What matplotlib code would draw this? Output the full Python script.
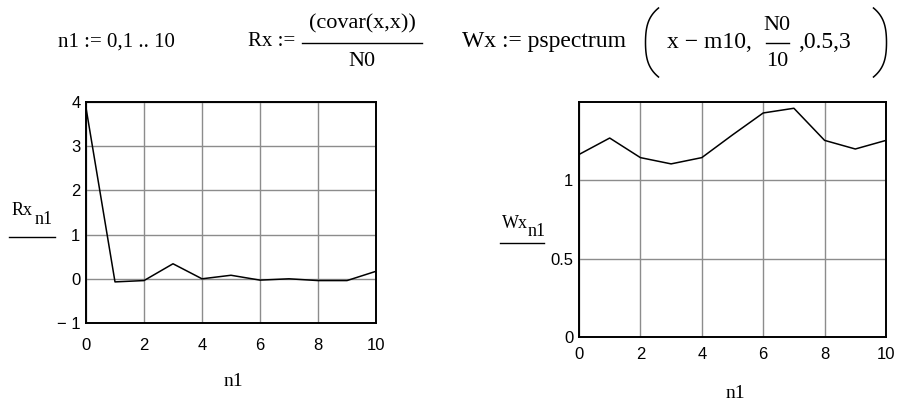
import matplotlib
matplotlib.use("Agg")
import numpy as np
import matplotlib.pyplot as plt
from matplotlib.lines import Line2D

n1 = list(range(11))
Rx = [3.87, -0.07, -0.04, 0.34, 0.0, 0.08, -0.03, 0.0, -0.04, -0.04, 0.17]
Wx = [1.165, 1.27, 1.145, 1.105, 1.145, 1.29, 1.43, 1.46, 1.255, 1.2, 1.255]

rx_yticks = [-1, 0, 1, 2, 3, 4]
rx_ylabels = ['\u2212 1', '0', '1', '2', '3', '4']
wx_yticks = [0, 0.5, 1]
wx_ylabels = ['0', '0.5', '1']
xticks = [0, 2, 4, 6, 8, 10]

W, H = 901, 403
SERIF = 'Liberation Serif'
SANS = 'Liberation Sans'

fig = plt.figure(figsize=(W / 100, H / 100), dpi=100)


def px(x, y):
    return x / W, 1 - y / H


def text(x, y, s, size=16, ha='left', va='center', family=SERIF):
    fig.text(*px(x, y), s, fontsize=size, ha=ha, va=va, family=family)


def line(xs, ys, lw=1.0):
    xs = np.asarray(xs, dtype=float) / W
    ys = 1 - np.asarray(ys, dtype=float) / H
    fig.add_artist(Line2D(xs, ys, color='black', lw=lw))


def hline(x0, x1, y, lw=1.0):
    line([x0, x1], [y, y], lw)


def paren(xc, y0, y1, bulge):
    # tall thin bracket, drawn as a curve in pixel space
    t = np.linspace(-1, 1, 40)
    ys = (y0 + y1) / 2 + t * (y1 - y0) / 2
    xs = xc + bulge * (t ** 4 * 0.6 + t ** 2 * 0.4 - 0.5)
    line(xs, ys, lw=1.1)


def setup(ax, yticks, ylabels, ylim, xpad):
    ax.set_xlim(0, 10)
    ax.set_ylim(*ylim)
    ax.set_xticks(xticks)
    ax.set_xticklabels([str(t) for t in xticks], family=SANS, fontsize=12)
    ax.set_yticks(yticks)
    ax.set_yticklabels(ylabels, family=SANS, fontsize=12)
    ax.tick_params(length=0)
    ax.tick_params(axis='x', pad=xpad)
    ax.tick_params(axis='y', pad=4)
    ax.grid(True, color='#8c8c8c', lw=1.0)
    ax.set_axisbelow(True)
    for sp in ax.spines.values():
        sp.set_linewidth(1.4)
        sp.set_color('black')


# left plot: Rx
ax1 = fig.add_axes([86 / W, 1 - 323 / H, 290 / W, 221 / H])
setup(ax1, rx_yticks, rx_ylabels, (-1, 4), 11)
ax1.plot(n1, Rx, color='black', lw=1.1)

# right plot: Wx
ax2 = fig.add_axes([579 / W, 1 - 337 / H, 307 / W, 235 / H])
setup(ax2, wx_yticks, wx_ylabels, (0, 1.5), 7)
ax2.plot(n1, Wx, color='black', lw=1.1)

# axis labels
text(233, 382, 'n1', size=14, ha='center')
text(735, 393, 'n1', size=14, ha='center')

text(12, 211, 'Rx', size=13)
text(35, 219, 'n1', size=13)
hline(9, 55, 237)

text(502, 224, 'Wx', size=13)
text(528, 232, 'n1', size=13)
hline(500, 544, 243)

# formulas at the top
text(58, 42, 'n1 := 0,1 .. 10', size=15)

text(248, 42, 'Rx :=', size=15)
text(362, 24, '(covar(x,x))', ha='center')
hline(302, 422, 43)
text(362, 62, 'N0', ha='center')

text(462, 42, 'Wx := pspectrum', size=17)
paren(652, 8, 77, 13)
text(667, 42, 'x \u2212 m10,', size=17)
text(777, 26, 'N0', ha='center')
hline(766, 789, 43)
text(777, 61, '10', ha='center')
text(798, 42, ',0.5,3', size=17)
paren(880, 8, 77, -13)

fig.savefig('out.png', dpi=100)
